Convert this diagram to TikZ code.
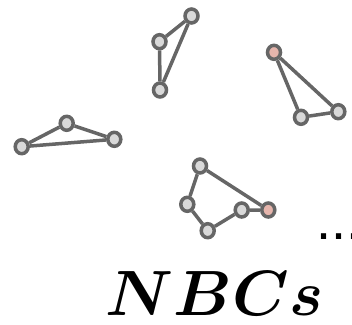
\documentclass[tikz,border=0pt]{standalone}
\usepackage{fontspec}
\newfontfamily\dotsfont{Liberation Sans}
\usetikzlibrary{shapes.geometric,backgrounds}
\definecolor{edgegray}{HTML}{666666}
\definecolor{nodegray}{HTML}{D9D9D9}
\definecolor{nodered}{HTML}{E6B5AC}
\newcommand{\nbclabel}{{\boldmath$NBCs$}}
\tikzset{
  vtx/.style={ellipse, draw=edgegray, fill=nodegray, line width=3.5pt, minimum width=13pt, minimum height=14pt, inner sep=0pt},
  rvtx/.style={vtx, fill=nodered},
  edg/.style={draw=edgegray, line width=3.5pt}
}
\begin{document}
\begin{tikzpicture}[x=1pt,y=-1pt]
\useasboundingbox (0,0) rectangle (352,324);
% cluster A
\node[vtx] (a1) at (191.5,16) {};
\node[vtx] (a2) at (159.5,41.7) {};
\node[vtx] (a3) at (160,90) {};
% cluster B
\node[rvtx] (b1) at (274,52.3) {};
\node[vtx] (b2) at (301,117.3) {};
\node[vtx] (b3) at (338.3,111.7) {};
% cluster C
\node[vtx] (c1) at (21.7,146.7) {};
\node[vtx] (c2) at (66.7,123.3) {};
\node[vtx] (c3) at (114.3,139.3) {};
% cluster D
\node[vtx] (d1) at (200,166) {};
\node[vtx] (d2) at (187.3,204.3) {};
\node[vtx] (d3) at (207.7,230.7) {};
\node[vtx] (d4) at (241.7,210) {};
\node[rvtx] (d5) at (268.3,210) {};
\begin{pgfonlayer}{background}
\path[edg] (a1) -- (a2) (a2) -- (a3) (a3) -- (a1);
\path[edg] (b1) -- (b2) (b2) -- (b3) (b3) -- (b1);
\path[edg] (c1) -- (c2) (c2) -- (c3) (c3) -- (c1);
\path[edg] (d1) -- (d2) (d2) -- (d3) (d3) -- (d4) (d4) -- (d5) (d5) -- (d1);
\end{pgfonlayer}
\node[anchor=base west, inner sep=0pt] (dots) at (316,239) {\dotsfont\fontsize{54}{58}\selectfont ...};
\node[anchor=base, inner sep=0pt, scale=6.4] (lbl) at (214.5,315) {\nbclabel};
\end{tikzpicture}
\end{document}
